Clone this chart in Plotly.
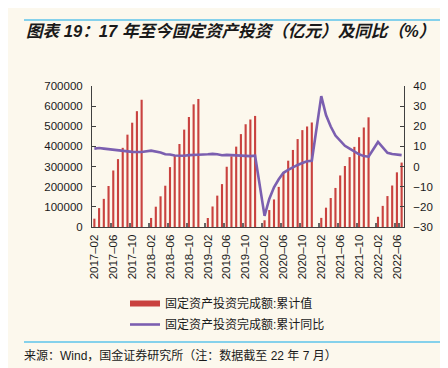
import plotly.graph_objects as go

# ---------------- data ----------------
years = [2017, 2018, 2019, 2020, 2021, 2022]
# 固定资产投资完成额:累计值 (亿元), Feb..Dec each year (Jan not published)
fai_2017 = [41378, 93777, 139670, 203716, 280605, 337095, 393037, 458478, 517818, 575057, 631684]
fai_2018 = [44905, 100763, 152369, 205000, 297316, 353111, 412000, 483442, 546000, 609000, 635636]
fai_2019 = [44849, 101871, 155747, 213000, 299100, 351000, 399000, 461204, 510154, 533718, 551478]
fai_2020 = [33323, 84145, 136824, 199194, 271786, 329214, 382502, 436530, 481000, 499000, 518907]
fai_2021 = [45236, 95994, 143804, 193917, 255900, 302823, 346913, 397827, 445823, 494082, 544547]
fai_2022 = [50763, 104872, 153544, 205964, 271430, 319812]
# 固定资产投资完成额:累计同比 (%)
yoy_2017 = [8.9, 9.2, 8.9, 8.6, 8.6, 8.3, 7.8, 7.5, 7.3, 7.2, 7.2]
yoy_2018 = [7.9, 7.5, 7.0, 6.1, 6.0, 5.5, 5.3, 5.4, 5.7, 5.9, 5.9]
yoy_2019 = [6.1, 6.3, 6.1, 5.6, 5.8, 5.7, 5.5, 5.4, 5.2, 5.2, 5.4]
yoy_2020 = [-24.5, -16.1, -10.3, -6.3, -3.1, -1.6, -0.3, 0.8, 1.8, 2.6, 2.9]
yoy_2021 = [35.0, 25.6, 19.9, 15.4, 12.6, 10.3, 8.9, 7.3, 6.1, 5.2, 4.9]
yoy_2022 = [12.2, 9.3, 6.8, 6.2, 6.1, 5.7]

fai_by_year = [fai_2017, fai_2018, fai_2019, fai_2020, fai_2021, fai_2022]
yoy_by_year = [yoy_2017, yoy_2018, yoy_2019, yoy_2020, yoy_2021, yoy_2022]

months, fai, yoy = [], [], []
for yi, y in enumerate(years):
    start = 1 if yi > 0 else 2
    for m in range(start, 13):
        idx = m - 2
        if idx >= len(fai_by_year[yi]):
            break
        months.append(f"{y}-{m:02d}")
        if m == 1:
            fai.append(None)
            yoy.append(None)
        else:
            fai.append(fai_by_year[yi][idx])
            yoy.append(yoy_by_year[yi][idx])

tick_vals = months[::4]
tick_text = [t.replace("-", "–") for t in tick_vals]

# ---------------- style ----------------
W, H = 448, 368
L, R, T, B = 84, 396, 78, 219
BG = "#FCF8ED"
RED = "#C9423F"
PURPLE = "#7B5FB0"
BLUE = "#5EC4EA"
TXT = "#1a1a1a"
AX = "#404040"
FONT = "Liberation Sans, Arial, Noto Sans CJK SC, sans-serif"


def px(x):
    return (x - L) / (R - L)


def py(y):
    return (B - y) / (B - T)


fig = go.Figure()
fig.add_trace(go.Bar(
    x=months, y=fai, marker=dict(color=RED, line=dict(width=0)),
    name="固定资产投资完成额:累计值", showlegend=False, yaxis="y",
))
fig.add_trace(go.Scatter(
    x=months, y=yoy, mode="lines", connectgaps=True,
    line=dict(color=PURPLE, width=2.6),
    name="固定资产投资完成额:累计同比", showlegend=False, yaxis="y2",
))
# legend entries (line-style swatches, as in the reference)
fig.add_trace(go.Scatter(x=[None], y=[None], mode="lines",
                         line=dict(color=RED, width=6),
                         name="固定资产投资完成额:累计值", legendgroup="a"))
fig.add_trace(go.Scatter(x=[None], y=[None], mode="lines",
                         line=dict(color=PURPLE, width=2.6),
                         name="固定资产投资完成额:累计同比", legendgroup="b"))

fig.update_layout(
    width=W, height=H,
    margin=dict(l=L, r=W - R, t=T, b=H - B, pad=0),
    paper_bgcolor=BG, plot_bgcolor=BG,
    font=dict(family=FONT, size=11.5, color=TXT),
    bargap=0.55,
    xaxis=dict(
        type="category", categoryorder="array", categoryarray=months,
        tickvals=tick_vals, ticktext=tick_text, tickangle=-90,
        tickson="boundaries", ticks="inside", ticklen=4, tickwidth=1.5,
        tickcolor="#666666", showline=True, linecolor=AX, linewidth=1,
        showgrid=False, zeroline=False, tickfont=dict(size=11.5),
        range=[-0.5, len(months) - 0.5], ticklabelstandoff=2,
    ),
    yaxis=dict(
        range=[0, 700000], dtick=100000, tickformat="d",
        showline=True, linecolor=AX, linewidth=1,
        ticks="inside", ticklen=4, tickcolor=AX,
        showgrid=False, zeroline=False, ticklabelstandoff=6,
    ),
    yaxis2=dict(
        range=[-30, 40], dtick=10, overlaying="y", side="right",
        showline=True, linecolor=AX, linewidth=1,
        ticks="inside", ticklen=4, tickcolor=AX,
        showgrid=False, zeroline=False, ticklabelstandoff=6,
    ),
    legend=dict(
        x=px(117), y=py(281), xanchor="left", yanchor="top",
        bgcolor="rgba(0,0,0,0)", font=dict(size=12),
        traceorder="grouped", tracegroupgap=2,
    ),
    annotations=[
        dict(text="<b><i>图表 19：17 年至今固定资产投资（亿元）及同比（%）</i></b>",
             x=px(16), y=py(24), xref="paper", yref="paper",
             xanchor="left", yanchor="middle", showarrow=False,
             font=dict(size=16.6, color=TXT,
                       family="Liberation Sans, Noto Sans CJK SC, sans-serif")),
        dict(text="来源：Wind，国金证券研究所（注：数据截至 22 年 7 月）",
             x=px(14), y=py(347), xref="paper", yref="paper",
             xanchor="left", yanchor="middle", showarrow=False,
             font=dict(size=12, color=TXT)),
    ],
    shapes=[
        dict(type="line", xref="paper", yref="paper",
             x0=px(16), x1=px(440), y0=py(12), y1=py(12),
             line=dict(color=BLUE, width=1.5)),
        dict(type="line", xref="paper", yref="paper",
             x0=px(16), x1=px(440), y0=py(334), y1=py(334),
             line=dict(color=BLUE, width=1.5)),
    ],
)

fig.write_html("out.html")
